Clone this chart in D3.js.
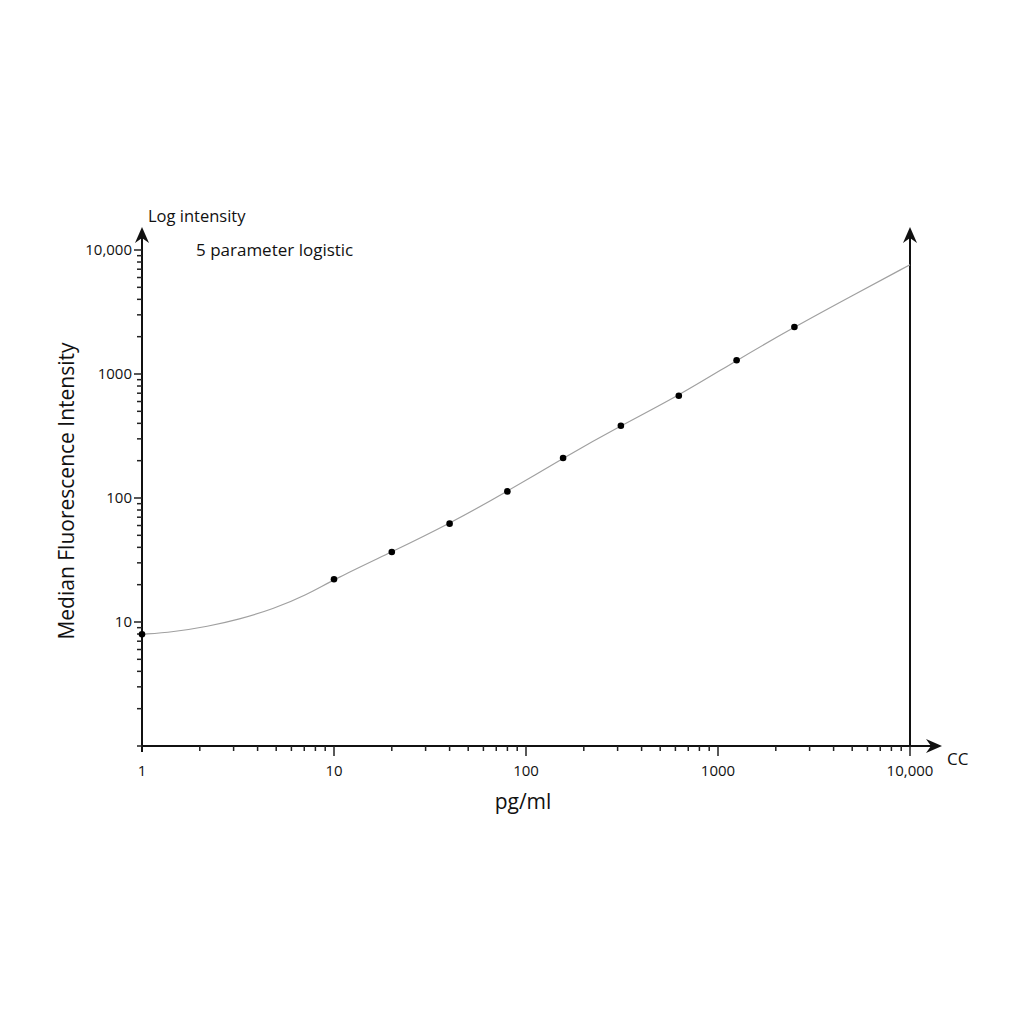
<!DOCTYPE html>
<meta charset="utf-8">
<head>
  <title>5 parameter logistic standard curve</title>
</head>

<style>
body { margin: 0; background: #fff; }
text { font-family: "Open Sans", "DejaVu Sans", sans-serif; fill: #111; }
.axis-line { stroke: #111; stroke-width: 2; fill: none; }
.tick { stroke: #222; stroke-width: 1.5; }
.fit { fill: none; stroke: #a0a0a0; stroke-width: 1.2; }
</style>

<body>
  <svg width="1024" height="1024"></svg>

  <script src="https://cdnjs.cloudflare.com/ajax/libs/d3/7.8.5/d3.min.js"></script>
  <script>

// standards: concentration (pg/ml) and median fluorescence intensity
var concentration = [1, 10, 20, 40, 80, 156, 312, 625, 1250, 2500];
var intensity     = [7.95, 22.1, 36.7, 62.1, 113, 210, 383, 668, 1290, 2393];

// fitted curve
var fitConc = [1, 1.45, 2.2, 3.2, 4.8, 7.2, 10, 20, 40, 80, 156, 312, 625, 1250, 2500, 5000, 10000];
var fitMFI  = [7.95, 8.3, 9.2, 10.5, 12.7, 16.5, 22.1, 36.7, 62.1, 113, 210, 383, 668, 1290, 2393, 4280, 7610];

var xTickValues = [1, 10, 100, 1000, 10000];
var xTickLabels = ["1", "10", "100", "1000", "10,000"];
var yTickValues = [10, 100, 1000, 10000];
var yTickLabels = ["10", "100", "1000", "10,000"];

var svg = d3.select('svg');

var x = d3.scaleLog().domain([1, 10000]).range([142, 910]);
var y = d3.scaleLog().domain([1, 10000]).range([746, 250]);

// minor tick positions 2..9 in every decade
function minorTicks(lo, hi) {
    var out = [];
    for (var d = lo; d < hi; d *= 10)
        for (var k = 2; k <= 9; k++) out.push(d * k);
    return out;
}

var g = svg.append('g');

// arrowhead, tip at origin pointing up
function arrow(tx, ty, angle) {
    g.append('path')
        .attr('d', 'M0,0 L7,16 L0,11 L-7,16 Z')
        .attr('fill', '#111')
        .attr('transform', 'translate(' + tx + ',' + ty + ') rotate(' + angle + ')');
}

// y axis
g.append('line').attr('class', 'axis-line')
    .attr('x1', x(1)).attr('x2', x(1)).attr('y1', y(1) + 6).attr('y2', 232);
arrow(x(1), 227, 0);

// right vertical line
g.append('line').attr('class', 'axis-line')
    .attr('x1', x(10000)).attr('x2', x(10000)).attr('y1', y(1)).attr('y2', 232);
arrow(x(10000), 227, 0);

// x axis
g.append('line').attr('class', 'axis-line')
    .attr('x1', x(1) - 1).attr('x2', 936).attr('y1', y(1)).attr('y2', y(1));
arrow(942, y(1), 90);

// y ticks
g.selectAll('.ymin').data(minorTicks(1, 10000).concat([1])).enter()
    .append('line').attr('class', 'tick')
    .attr('x1', x(1) - 5).attr('x2', x(1))
    .attr('y1', d => y(d)).attr('y2', d => y(d));
g.selectAll('.ymaj').data(yTickValues).enter()
    .append('line').attr('class', 'tick')
    .attr('x1', x(1) - 8).attr('x2', x(1))
    .attr('y1', d => y(d)).attr('y2', d => y(d));
g.selectAll('.ylab').data(yTickValues).enter()
    .append('text')
    .attr('x', x(1) - 10).attr('y', d => y(d) + 5)
    .attr('text-anchor', 'end')
    .style('font-size', '15px')
    .text((d, i) => yTickLabels[i]);

// x ticks
g.selectAll('.xmin').data(minorTicks(1, 10000)).enter()
    .append('line').attr('class', 'tick')
    .attr('x1', d => x(d)).attr('x2', d => x(d))
    .attr('y1', y(1)).attr('y2', y(1) + 5);
g.selectAll('.xmaj').data(xTickValues.slice(1)).enter()
    .append('line').attr('class', 'tick')
    .attr('x1', d => x(d)).attr('x2', d => x(d))
    .attr('y1', y(1)).attr('y2', y(1) + 10);
g.selectAll('.xlab').data(xTickValues).enter()
    .append('text')
    .attr('x', d => x(d)).attr('y', y(1) + 30)
    .attr('text-anchor', 'middle')
    .style('font-size', '15px')
    .text((d, i) => xTickLabels[i]);

// fitted curve
var line = d3.line()
    .x((d, i) => x(fitConc[i]))
    .y(d => y(d))
    .curve(d3.curveBasis);
g.append('path').attr('class', 'fit').attr('d', line(fitMFI));

// standards
g.selectAll('.pt').data(concentration).enter()
    .append('circle')
    .attr('cx', d => x(d))
    .attr('cy', (d, i) => y(intensity[i]))
    .attr('r', 3.3)
    .attr('fill', '#000');

// labels
g.append('text').attr('x', 148).attr('y', 222).style('font-size', '16.5px').text('Log intensity');
g.append('text').attr('x', 196).attr('y', 256).style('font-size', '17px').text('5 parameter logistic');
g.append('text').attr('x', 947).attr('y', 765).style('font-size', '17px').text('CC');
g.append('text').attr('x', 523).attr('y', 809).attr('text-anchor', 'middle')
    .style('font-size', '21px').text('pg/ml');
g.append('text')
    .attr('transform', 'translate(74,491) rotate(-90)')
    .attr('text-anchor', 'middle')
    .style('font-size', '21px')
    .text('Median Fluorescence Intensity');

  </script>
</body>
</html>
